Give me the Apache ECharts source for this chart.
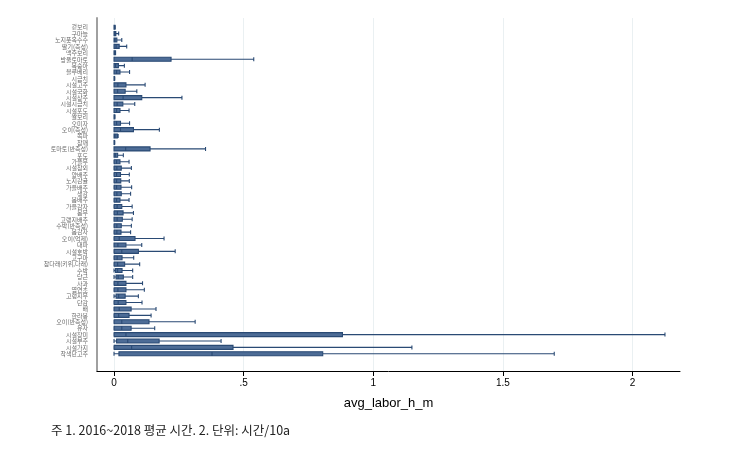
<!DOCTYPE html>
<html><head><meta charset="utf-8">
<script src="https://cdn.jsdelivr.net/npm/echarts@6/dist/echarts.min.js"></script>
<style>html,body{margin:0;padding:0;background:#fff}#c{width:732px;height:462px}</style>
</head><body><div id="c"></div>
<script>
const categories = ['겉보리','구마늘','노지풋옥수수','딸기(촉성)','맥주보리','방울토마토','복숭아','블루베리','시금치','시설고추','시설국화','시설상추','시설시금치','시설포도','쌀보리','오미자','오이(촉성)','쪽파','참깨','토마토(반촉성)','포도','가을무','시설참외','양배추','노지감귤','가을배추','생강','봄배추','가을감자','봄무','고랭지배추','수박(반촉성)','봄감자','오이(억제)','대파','시설호박','고구마','참다래(키위,다래)','수박','당근','사과','엽연초','고랭지무','단감','배','한라봉','오이(반촉성)','유자','시설장미','시설부추','시설가지','착색단고추'];
const lowWhisker = [0,0,0,0,0,0,0,0,0,0,0,0,0,0,0,0,0,0,0,0,0,0,0,0,0,0,0,0,0,0,0,0,0,0,0,0,0,0,0,0,0,0,0,0,0,0,0,0,0,0,0,0];
const q1 = [0,0,0,0,0,0,0,0,0,0,0,0,0,0,0,0,0,0,0,0,0,0.001,0.001,0.001,0.001,0.001,0.001,0.001,0.001,0.001,0,0.001,0.001,0.001,0,0.001,0.001,0.001,0.006,0.008,0.001,0.001,0.008,0.001,0.001,0.001,0.001,0.001,0.001,0.01,0.001,0.019];
const median = [0.001,0.003,0.004,0.008,0.002,0.07,0.006,0.01,0.001,0.015,0.014,0.035,0.012,0.01,0.001,0.01,0.025,0.004,0.001,0.045,0.005,0.01,0.011,0.01,0.01,0.01,0.011,0.01,0.012,0.013,0.012,0.011,0.011,0.02,0.015,0.03,0.012,0.014,0.014,0.016,0.015,0.015,0.018,0.016,0.02,0.018,0.03,0.03,0.046,0.053,0.068,0.378];
const q3 = [0.004,0.007,0.011,0.02,0.006,0.22,0.017,0.023,0.002,0.046,0.043,0.107,0.034,0.023,0.003,0.025,0.075,0.013,0.002,0.139,0.014,0.023,0.028,0.025,0.026,0.027,0.028,0.023,0.03,0.035,0.032,0.028,0.027,0.081,0.046,0.094,0.031,0.041,0.031,0.036,0.046,0.046,0.043,0.046,0.066,0.058,0.135,0.066,0.881,0.174,0.459,0.805];
const highWhisker = [0.005,0.018,0.03,0.049,0.006,0.539,0.04,0.06,0.003,0.12,0.088,0.262,0.08,0.058,0.004,0.06,0.175,0.016,0.003,0.353,0.036,0.058,0.067,0.059,0.059,0.068,0.064,0.058,0.07,0.075,0.07,0.067,0.064,0.193,0.107,0.236,0.076,0.099,0.072,0.072,0.11,0.117,0.094,0.108,0.162,0.143,0.313,0.157,2.125,0.413,1.149,1.698];
const tickValues = [0, 0.5, 1, 1.5, 2];
const tickLabels = ['0', '.5', '1', '1.5', '2'];

const boxData = categories.map((c, i) => [lowWhisker[i], q1[i], median[i], q3[i], highWhisker[i]]);
const xMin = -0.0656, xMax = 2.183;
const chart = echarts.init(document.getElementById('c'));
chart.setOption({
  animation: false,
  backgroundColor: '#fff',
  textStyle: { fontFamily: 'Liberation Sans' },
  grid: [
    { left: 97, right: 52, top: 24, bottom: 105 },
    { left: 97, right: 52, top: 18, bottom: 91 }
  ],
  xAxis: [
    { type: 'value', gridIndex: 0, min: xMin, max: xMax, offset: 14,
      axisLine: { show: true, onZero: false, lineStyle: { color: '#000', width: 1 } },
      axisTick: { show: true, length: 5, lineStyle: { color: '#000' }, customValues: tickValues },
      axisLabel: { color: '#000', fontSize: 10, margin: 7, customValues: tickValues,
        formatter: v => { const k = tickValues.findIndex(t => Math.abs(t - v) < 1e-9); return k >= 0 ? tickLabels[k] : ''; } },
      splitLine: { show: false },
      name: 'avg_labor_h_m', nameLocation: 'middle', nameGap: 26,
      nameTextStyle: { color: '#000', fontSize: 13 } },
    { type: 'value', gridIndex: 1, min: xMin, max: xMax,
      axisLine: { show: false }, axisTick: { show: false, customValues: tickValues },
      axisLabel: { show: false, customValues: tickValues },
      splitLine: { show: true, lineStyle: { color: '#eaf0f2', width: 1 } } }
  ],
  yAxis: [
    { type: 'category', gridIndex: 0, data: categories, inverse: true,
      axisLine: { show: false }, axisTick: { show: false }, axisLabel: { show: false } },
    { type: 'value', gridIndex: 1, min: 0, max: 1,
      axisLine: { show: true, onZero: false, lineStyle: { color: '#a0a0a0', width: 2 } },
      axisTick: { show: false }, axisLabel: { show: false }, splitLine: { show: false } }
  ],
  series: [{
    type: 'boxplot', xAxisIndex: 0, yAxisIndex: 0,
    data: boxData,
    boxWidth: [4, 4],
    itemStyle: { color: '#4d6c96', borderColor: '#2a4a74', borderWidth: 1.1 }
  }, {
    type: 'scatter', xAxisIndex: 0, yAxisIndex: 0, silent: true,
    symbolSize: 0, clip: false,
    data: categories.map(c => [xMin, c]),
    label: { show: true, position: 'left', distance: 9, fontSize: 6, color: '#444',
      fontFamily: 'Noto Sans CJK KR', formatter: p => categories[p.dataIndex] },
    labelLayout: { hideOverlap: false }
  }],
  graphic: [{
    type: 'text', left: 51, top: 424,
    style: { text: '주 1. 2016~2018 평균 시간. 2. 단위: 시간/10a', fontSize: 12.5, fill: '#222', fontFamily: 'Noto Sans CJK KR' }
  }]
});
</script></body></html>
